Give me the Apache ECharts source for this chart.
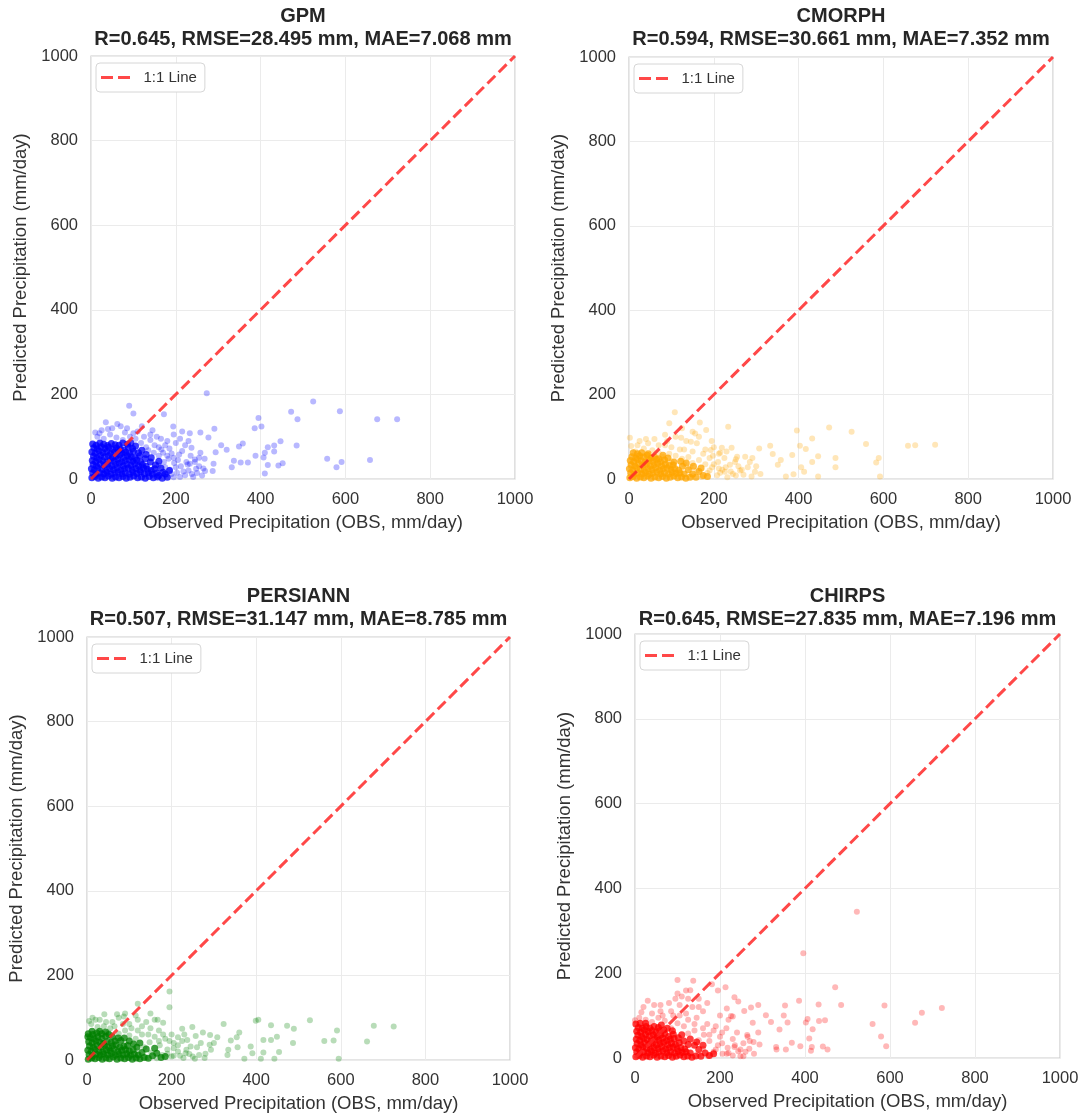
<!DOCTYPE html>
<html lang="en">
<head>
<meta charset="UTF-8">
<title>OBS vs satellite precipitation</title>
<script src="https://cdn.jsdelivr.net/npm/echarts@6/dist/echarts.min.js"></script>
<style>
  * { margin: 0; padding: 0; }
  body { background: #fff; }
  #chart { width: 1084px; height: 1118px; }
</style>
</head>
<body>
<div id="chart"></div>
<script>
// ---- data ----
const products = ['GPM', 'CMORPH', 'PERSIANN', 'CHIRPS'];
const statLines = [
  'R=0.645, RMSE=28.495 mm, MAE=7.068 mm',
  'R=0.594, RMSE=30.661 mm, MAE=7.352 mm',
  'R=0.507, RMSE=31.147 mm, MAE=8.785 mm',
  'R=0.645, RMSE=27.835 mm, MAE=7.196 mm'
];
const tickValues = [0, 200, 400, 600, 800, 1000];
const oneToOne = [[0, 0], [1000, 1000]];

// heavily overplotted core near the origin
const gpmCore = [
  [2,3],[9,6],[17,2],[25,5],[33,3],[41,7],[50,2],[58,5],[66,3],[75,6],[83,2],[92,4],[101,7],[110,3],[119,5],[128,2],[137,6],[147,3],[157,5],[168,2],
  [4,14],[12,11],[21,15],[30,12],[38,16],[47,11],[56,14],[64,17],[73,12],[81,15],[90,11],[99,16],[108,13],[117,17],[126,12],[135,15],[145,11],[155,14],
  [1,24],[8,21],[16,26],[26,23],[35,20],[44,25],[53,22],[62,27],[70,21],[79,24],[88,26],[97,22],[106,25],[115,21],[124,26],[133,23],[142,20],
  [5,34],[13,31],[22,36],[31,32],[40,35],[49,30],[58,34],[67,37],[76,31],[85,35],[94,32],[103,36],[112,31],[121,34],[130,30],
  [3,44],[11,41],[19,46],[28,43],[37,40],[46,45],[55,42],[63,47],[72,41],[81,44],[90,46],[99,42],[108,45],[117,40],
  [6,54],[14,51],[23,56],[32,52],[41,55],[50,50],[59,54],[68,57],[77,51],[86,55],[95,52],[104,50],
  [2,64],[10,61],[19,66],[28,62],[37,65],[46,60],[55,64],[64,67],[73,61],[82,63],[91,60],
  [7,74],[15,71],[24,76],[33,72],[42,75],[51,70],[60,73],[69,71],[78,68],
  [4,83],[12,80],[21,85],[30,82],[39,79],[48,84],[57,81],
  [150,24],[160,8],[170,16],[180,4],[152,33],[140,40],[128,48],[115,55],[112,62],[100,65],[98,72],[88,75],[86,82],[66,80],
  [75,85],[94,85],[105,78],[120,68],[130,58],[142,50],[160,42],[165,26],[175,12],[185,20]
];
const gpmPoints = [
  [178,8],[186,22],[195,4],[203,15],[212,30],[222,9],[230,20],[241,5],[250,14],[172,40],[183,48],[160,55],[148,62],[166,70],
  [190,60],[205,45],[215,66],[130,75],[118,85],[140,92],[105,95],[92,100],[75,92],[60,98],[45,105],[30,95],[15,100],[25,115],
  [50,120],[80,110],[110,112],[120,125],[155,100],[180,90],[200,85],[235,55],[255,30],[262,8],[160,32],[175,28],[196,38],[150,80],
  [70,125],[10,110],
  [190,12],[200,28],[210,5],[218,18],[228,34],[238,12],[248,24],[180,55],[170,62],[195,50],[208,58],[225,40],[245,40],[160,75],
  [175,80],[140,105],[125,100],[100,108],[85,120],[40,118],[20,108],[135,68],[185,72],[210,95],[230,90],[255,50],[265,25],
  [195,105],[165,95],[145,115],
  [273,203],[524,183],[472,159],[587,160],[487,141],[675,141],[722,141],[395,144],[386,120],[402,124],[291,119],[258,110],
  [233,108],[215,112],[194,124],[172,153],[90,173],[100,155],[35,134],[62,130],[277,98],[447,89],[432,79],[417,75],[485,79],
  [358,84],[349,77],[320,69],[307,80],[294,63],[432,65],[410,62],[388,55],[407,51],[557,48],[591,40],[579,28],[658,45],
  [452,37],[442,32],[417,33],[410,13],[370,39],[353,39],[337,43],[332,28],[289,36],[269,19],[287,19],[268,48],[245,46],
  [233,36],[258,62],[237,74],[222,80]
];

const cmorphCore = [
  [2,3],[10,6],[18,2],[27,5],[35,3],[44,7],[52,2],[61,5],[70,3],[79,6],[88,2],[97,4],[106,7],[115,3],[124,5],[134,2],[144,4],
  [4,14],[12,11],[21,15],[30,12],[39,16],[48,11],[57,14],[66,17],[75,12],[84,15],[93,11],[102,16],[111,13],[120,15],[130,12],
  [1,24],[9,21],[18,26],[27,23],[36,20],[45,25],[54,22],[63,27],[72,21],[81,24],[90,26],[99,22],[108,25],[117,21],
  [5,34],[14,31],[23,36],[32,32],[41,35],[50,30],[59,34],[68,37],[77,31],[86,35],[95,32],
  [3,44],[11,41],[20,46],[29,43],[38,40],[47,45],[56,42],[65,47],[74,41],
  [7,53],[16,50],[25,55],[34,52],[43,56],[52,50],
  [150,12],[158,4],[165,18],[175,8],[140,22],[126,30],[135,38],[122,42],[106,40],[104,33],[84,45],[92,50],[60,52],[70,48],
  [80,56],[20,60],[30,62],[10,62],[45,60],[152,30],[170,26],[185,6]
];
const cmorphPoints = [
  [150,8],[160,20],[172,5],[185,14],[196,28],[208,9],[220,22],[232,4],[245,12],[258,30],[150,38],[165,45],[140,52],[125,48],
  [110,55],[95,60],[80,52],[70,62],[55,68],[35,72],[15,65],[5,78],[45,85],[85,80],[120,70],[135,90],[110,100],[60,95],[25,90],
  [175,60],[190,50],[200,75],[160,85],[180,35],[210,40],[270,10],[280,28],[100,42],[145,28],[130,35],
  [190,20],[200,35],[215,15],[228,28],[240,18],[252,8],[262,20],[198,55],[212,60],[225,50],[180,70],[150,65],[130,70],[100,75],
  [90,90],[70,80],[40,95],[20,80],[165,100],[195,90],[230,65],[250,40],[285,40],[300,30],[310,12],[150,112],[125,120],[85,105],
  [108,158],[95,132],[167,134],[234,124],[472,122],[525,112],[396,115],[432,96],[559,83],[658,79],[675,80],[722,81],[403,79],
  [417,71],[333,79],[307,72],[339,59],[358,45],[351,34],[385,57],[446,54],[487,50],[432,40],[487,28],[406,28],[413,17],
  [388,11],[370,6],[446,6],[589,50],[583,39],[592,6],[291,50],[274,53],[252,47],[255,53],[242,74],[219,74],[215,62],[212,25],
  [226,17],[289,6],[238,34],[266,22],[297,17],[182,116],[156,108],[146,88],[193,69],[2,98],[123,98]
];

const persiannCore = [
  [3,2],[11,5],[19,3],[28,6],[36,2],[45,5],[53,3],[62,7],[71,2],[80,5],[89,3],[98,6],[107,2],[116,5],[125,3],[135,6],
  [5,13],[13,10],[22,14],[31,11],[40,15],[49,12],[58,16],[67,11],[76,14],[85,12],[94,15],[103,11],[112,14],[121,12],
  [2,23],[10,20],[19,25],[28,22],[37,19],[46,24],[55,21],[64,26],[73,20],[82,23],[91,25],[100,21],[109,24],
  [6,33],[15,30],[24,35],[33,31],[42,34],[51,29],[60,33],[69,36],[78,30],[87,33],
  [4,43],[12,40],[21,45],[30,42],[39,39],[48,44],[57,41],[66,45],
  [8,53],[17,50],[26,55],[35,51],[44,56],
  [3,62],[14,60],[23,64],
  [145,4],[155,10],[165,16],[175,6],[130,18],[140,26],[118,30],[125,40],[110,38],[96,34],[100,45],[80,46],[88,52],[74,52],
  [60,55],[52,60],[35,62],[44,66],[30,68],[12,68],[2,55],[185,8],[160,28]
];
const persiannPoints = [
  [140,6],[152,18],[165,4],[178,12],[190,25],[200,8],[215,20],[228,5],[242,14],[255,3],[135,30],[148,42],[160,55],[172,35],
  [185,50],[130,60],[115,50],[100,58],[90,70],[75,62],[55,75],[40,80],[25,78],[10,85],[60,90],[30,95],[130,80],[150,75],
  [170,70],[180,88],[200,60],[205,40],[225,45],[120,95],[100,85],[75,100],[205,10],[265,12],[50,65],
  [190,15],[205,28],[220,10],[235,24],[250,8],[170,45],[180,60],[195,45],[215,35],[230,60],[145,60],[120,70],[105,75],[85,85],
  [65,80],[45,90],[20,95],[5,92],[140,90],[160,95],[115,105],[90,110],[150,110],[260,30],[280,15],[300,40],
  [195,162],[195,125],[120,133],[13,100],[41,108],[71,108],[87,103],[167,95],[323,85],[399,93],[405,95],[527,94],[435,82],
  [473,81],[489,74],[591,70],[678,81],[725,79],[662,44],[583,46],[561,45],[449,55],[435,47],[417,47],[487,40],[454,19],
  [417,18],[391,16],[387,32],[411,3],[443,3],[372,3],[595,3],[354,54],[360,65],[340,46],[334,24],[332,12],[356,30],[308,54],
  [291,59],[274,65],[257,57],[249,78],[225,74],[293,24],[278,5],[290,36],[269,40],[237,47],[245,32],[233,16],[215,54]
];

const chirpsCore = [
  [2,3],[10,6],[18,2],[27,5],[35,3],[44,7],[52,2],[61,5],[70,3],[79,6],[88,2],[97,4],[106,7],[115,3],[124,5],[134,2],[143,5],
  [4,14],[12,11],[21,15],[30,12],[39,16],[48,11],[57,14],[66,17],[75,12],[84,15],[93,11],[102,16],[111,13],[120,15],[130,12],
  [1,24],[9,21],[18,26],[27,23],[36,20],[45,25],[54,22],[63,27],[72,21],[81,24],[90,26],[99,22],[108,25],[117,21],
  [5,34],[14,31],[23,36],[32,32],[41,35],[50,30],[59,34],[68,37],[77,31],[86,35],[95,32],[104,36],
  [3,44],[11,41],[20,46],[29,43],[38,40],[47,45],[56,42],[65,47],[74,41],[83,44],[92,46],
  [7,54],[16,51],[25,56],[34,52],[43,55],[52,50],[61,54],[70,57],[79,51],
  [4,63],[13,61],[22,66],[31,62],[40,65],[49,60],[58,64],
  [8,72],[17,70],[26,74],[35,71],
  [155,4],[165,12],[175,6],[150,20],[140,30],[125,32],[115,40],[102,48],[90,56],[88,64],[68,66],[76,70],[45,74],[55,72],
  [62,78],[2,80],[12,82],[25,82],[110,55],[130,45],[145,38],[160,30],[185,10]
];
const chirpsPoints = [
  [150,8],[160,22],[172,5],[185,15],[195,30],[206,10],[218,24],[230,6],[243,16],[255,4],[150,42],[162,55],[140,65],[125,58],
  [115,75],[100,82],[85,70],[70,88],[55,95],[40,85],[25,90],[10,95],[60,110],[90,100],[120,105],[145,95],[170,80],[185,65],
  [200,50],[215,70],[230,45],[135,120],[105,125],[80,130],[45,125],[20,120],[160,110],[175,40],[260,15],[270,40],[150,140],[125,140],
  [190,20],[205,35],[220,12],[235,30],[248,20],[175,55],[190,75],[205,60],[160,70],[140,80],[125,90],[105,100],[85,110],
  [65,100],[40,105],[15,108],[150,120],[170,130],[130,160],[110,145],[95,140],[60,125],[30,135],[200,100],[220,90],[240,60],
  [255,35],[265,50],[280,10],[290,60],
  [396,247],[522,345],[100,184],[137,182],[181,174],[213,167],[195,159],[120,159],[100,152],[471,167],[485,125],[587,124],
  [432,126],[386,135],[353,124],[290,125],[273,119],[234,143],[243,133],[216,117],[257,111],[226,99],[230,98],[308,101],
  [350,100],[320,85],[359,84],[406,92],[402,84],[433,87],[447,89],[418,68],[340,67],[410,46],[559,80],[659,83],[675,107],
  [722,118],[579,51],[591,28],[369,36],[389,28],[355,20],[332,26],[333,20],[416,26],[414,17],[442,27],[453,20],[293,32],
  [279,38],[264,54],[277,83],[269,22],[248,4],[234,26],[216,10],[0,89]
];

const coreSets = [gpmCore, cmorphCore, persiannCore, chirpsCore];
const pointSets = [gpmPoints, cmorphPoints, persiannPoints, chirpsPoints];

// ---- layout / style ----
const dotColors = ['0,0,255', '255,165,0', '0,128,0', '255,0,0'];
const panels = [
  { left: 91,  top: 56,  width: 424, height: 423 },
  { left: 629, top: 57,  width: 424, height: 422 },
  { left: 87,  top: 637, width: 423, height: 423 },
  { left: 635, top: 634, width: 425, height: 424 }
];
const titleTops = [5, 5, 585, 585];
const FONT = '"Liberation Sans", Arial, sans-serif';
const LINE_RED = 'rgba(255,40,40,0.85)';

const chart = echarts.init(document.getElementById('chart'));

const grid = [], xAxis = [], yAxis = [], series = [], title = [], legend = [];

panels.forEach(function (p, i) {
  grid.push({
    left: p.left, top: p.top, width: p.width, height: p.height,
    show: true, borderColor: '#cccccc', borderWidth: 1.2, backgroundColor: '#fff'
  });
  const axisBase = {
    gridIndex: i, type: 'value',
    min: tickValues[0], max: tickValues[tickValues.length - 1],
    interval: tickValues[1] - tickValues[0],
    nameLocation: 'middle',
    nameTextStyle: { fontSize: 18.5, color: '#333', fontFamily: FONT },
    axisLine: { show: false }, axisTick: { show: false },
    splitLine: { lineStyle: { color: '#ebebeb', width: 1 } }
  };
  const tickLabel = function (v) { return String(v); };
  xAxis.push(Object.assign({}, axisBase, {
    name: 'Observed Precipitation (OBS, mm/day)', nameGap: 34,
    axisLabel: { fontSize: 16.5, color: '#333', margin: 12, fontFamily: FONT, formatter: tickLabel }
  }));
  yAxis.push(Object.assign({}, axisBase, {
    name: 'Predicted Precipitation (mm/day)', nameGap: 61,
    axisLabel: { fontSize: 16.5, color: '#333', margin: 13, fontFamily: FONT, formatter: tickLabel }
  }));
  title.push({
    text: products[i] + '\n' + statLines[i],
    left: p.left + p.width / 2, top: titleTops[i], textAlign: 'center', padding: 0,
    textStyle: { fontSize: 20, fontWeight: 'bold', color: '#262626', lineHeight: 23, fontFamily: FONT }
  });
  legend.push({
    data: [{ name: '1:1 Line', icon: 'path://M0,0H12V3H0Z M17,0H29V3H17Z' }],
    left: p.left + 5, top: p.top + 7,
    selectedMode: false,
    itemWidth: 32, itemHeight: 3, padding: [7, 8, 7, 5],
    itemStyle: { color: LINE_RED },
    backgroundColor: '#fff', borderColor: '#d6d6d6', borderWidth: 1, borderRadius: 4,
    textStyle: { fontSize: 15, color: '#333', fontFamily: FONT, padding: [0, 0, 0, 7] }
  });
  series.push({
    type: 'scatter', xAxisIndex: i, yAxisIndex: i, z: 2,
    symbolSize: 7, data: coreSets[i],
    itemStyle: { color: 'rgba(' + dotColors[i] + ',0.95)' }
  });
  series.push({
    type: 'scatter', xAxisIndex: i, yAxisIndex: i, z: 2,
    symbolSize: 6, data: pointSets[i],
    itemStyle: { color: 'rgba(' + dotColors[i] + ',0.35)' }
  });
  series.push({
    name: '1:1 Line', type: 'line', xAxisIndex: i, yAxisIndex: i, z: 3,
    symbol: 'none', data: oneToOne,
    itemStyle: { color: LINE_RED },
    lineStyle: { color: LINE_RED, width: 3, type: [11, 5] }
  });
});

chart.setOption({
  animation: false,
  backgroundColor: '#fff',
  textStyle: { fontFamily: FONT },
  title: title, legend: legend, grid: grid,
  xAxis: xAxis, yAxis: yAxis, series: series
});
</script>
</body>
</html>
